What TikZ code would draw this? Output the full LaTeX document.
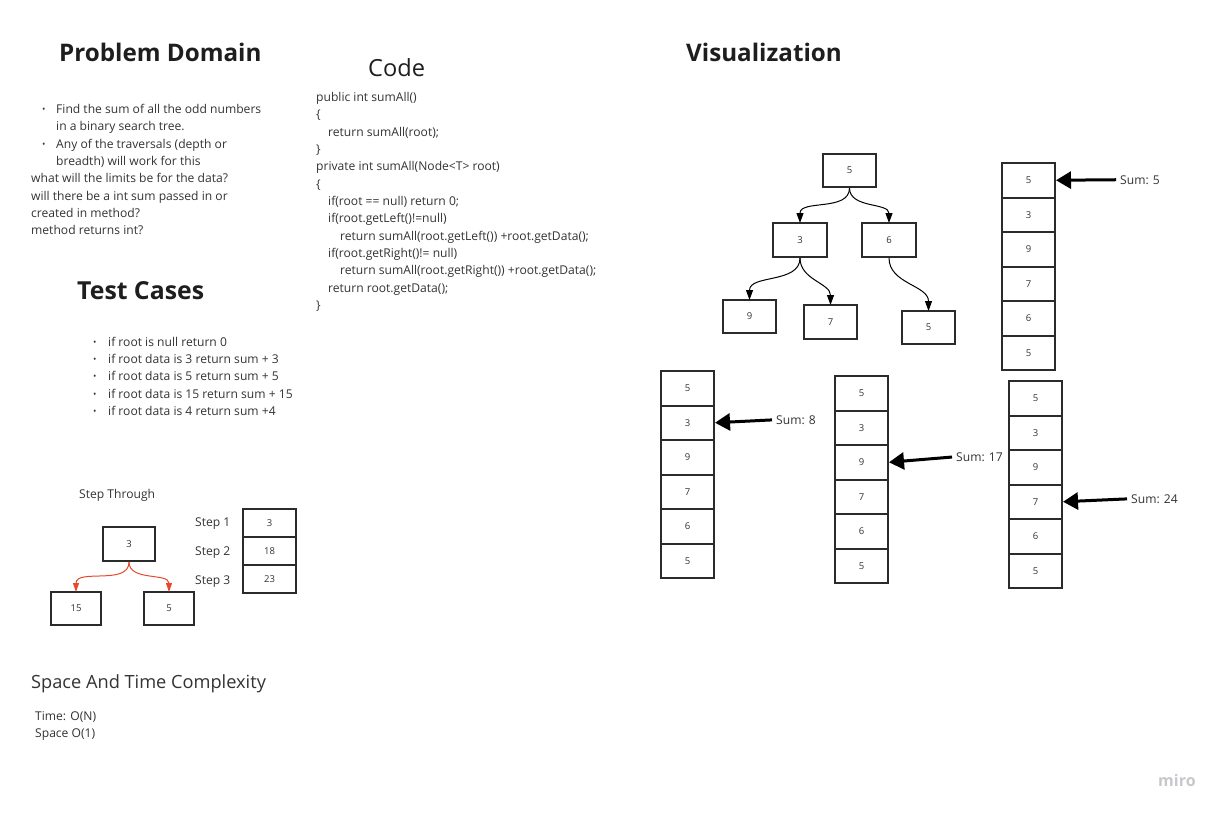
\documentclass[tikz,border=0pt]{standalone}
\usepackage{fontspec}
\setmainfont{Open Sans}
\usetikzlibrary{arrows.meta}
\definecolor{txtc}{HTML}{333333}
\definecolor{ttlc}{HTML}{1E1E1E}
\definecolor{boxc}{HTML}{2B2B2B}
\definecolor{redarr}{HTML}{E8492C}
\definecolor{miroc}{HTML}{C7C8CC}
\newcommand{\fsz}[2]{\fontsize{#1}{#2}\selectfont}
\begin{document}
\begin{tikzpicture}[x=1pt,y=-1pt,
  txt/.style={anchor=base west, inner sep=0, text=txtc, font=\fsz{12.1}{17}},
  codetxt/.style={anchor=base west, inner sep=0, text=txtc, font=\fsz{12.1}{17}},
  bul/.style={anchor=base west, inner sep=0, text=txtc, font=\fsz{9}{9}},
  ttl/.style={anchor=base west, inner sep=0, text=ttlc, font=\fsz{24.2}{28}\bfseries},
  cell/.style={draw=boxc, line width=2pt, minimum width=53pt, minimum height=34.5pt, inner sep=0, font=\fsz{9.5}{9.5}, text=txtc},
  tarr/.style={line width=1pt, -{Triangle[length=10pt,width=7pt]}},
  rarr/.style={draw=redarr, line width=1pt, -{Triangle[length=9pt,width=6pt]}},
  sarr/.style={line width=3pt, -{Triangle[length=15pt,width=17pt]}, shorten <=4pt},
]
\useasboundingbox (0,0) rectangle (1225,816);
\fill[white] (0,0) rectangle (1225,816);

% Titles
\node[ttl] (pd) at (59,62) {Problem Domain};
\node[ttl] (vis) at (686,62) {Visualization};
\node[ttl, font=\fsz{24.8}{28}\bfseries] (tc) at (77,299) {Test Cases};
\node[anchor=base west, inner sep=0, text=ttlc, font=\fsz{23.6}{26}] (codet) at (368,76) {Code};
\node[anchor=base west, inner sep=0, text=txtc, font=\fsz{18.2}{22}] (stc) at (31,688) {Space And Time Complexity};

% Problem domain
\node[bul] (pb1) at (42,112) {•};
\node[bul] (pb2) at (42,147) {•};
\node[txt] (p1) at (56,113) {Find the sum of all the odd numbers};
\node[txt] (p2) at (56,130.5) {in a binary search tree.};
\node[txt] (p3) at (56,148) {Any of the traversals (depth or};
\node[txt] (p4) at (56,165) {breadth) will work for this};
\node[txt] (p5) at (31,182.5) {what will the limits be for the data?};
\node[txt] (p6) at (31,200) {will there be a int sum passed in or};
\node[txt] (p7) at (31,217) {created in method?};
\node[txt] (p8) at (31,234) {method returns int?};

% Code
\node[codetxt] (c0) at (316,101.5) {public int sumAll()};
\node[codetxt] (c1) at (316,118.8) {\{};
\node[codetxt] (c2) at (328,136.2) {return sumAll(root);};
\node[codetxt] (c3) at (316,153.5) {\}};
\node[codetxt] (c4) at (316,170.8) {private int sumAll(Node<T> root)};
\node[codetxt] (c5) at (316,188.2) {\{};
\node[codetxt] (c6) at (328,205.5) {if(root == null) return 0;};
\node[codetxt] (c7) at (328,222.8) {if(root.getLeft()!=null)};
\node[codetxt] (c8) at (340,240.2) {return sumAll(root.getLeft()) +root.getData();};
\node[codetxt] (c9) at (328,257.5) {if(root.getRight()!= null)};
\node[codetxt] (c10) at (340,274.8) {return sumAll(root.getRight()) +root.getData();};
\node[codetxt] (c11) at (328,292.2) {return root.getData();};
\node[codetxt] (c12) at (316,309.5) {\}};

% Test cases
\foreach \i/\t in {0/{if root is null return 0},1/{if root data is 3 return sum + 3},2/{if root data is 5 return sum + 5},3/{if root data is 15 return sum + 15},4/{if root data is 4 return sum +4}}{
  \node[bul] (tb\i) at (93,345.5+17.2*\i) {•};
  \node[codetxt] (t\i) at (108,346.5+17.2*\i) {\t};
}

% Step through
\node[codetxt] (stl) at (79,498) {Step Through};
\node[codetxt] (s1l) at (195,526) {Step 1};
\node[codetxt] (s2l) at (195,555) {Step 2};
\node[codetxt] (s3l) at (195,584) {Step 3};
\node[cell, minimum height=28pt] (s1) at (269.5,523) {3};
\node[cell, minimum height=28pt] (s2) at (269.5,551) {18};
\node[cell, minimum height=28pt] (s3) at (269.5,579) {23};
\node[cell, minimum width=52pt, minimum height=34pt] (n3) at (129,544) {3};
\node[cell, minimum width=50pt, minimum height=33pt] (n15) at (76,608.5) {15};
\node[cell, minimum width=50pt, minimum height=33pt] (n5) at (169,608.5) {5};
\draw[rarr] (n3.south) to[out=-90,in=90] ([yshift=-1pt]n15.north);
\draw[rarr] (n3.south) to[out=-90,in=90] ([yshift=-1pt]n5.north);

% Time / space
\node[codetxt] (time) at (35,720.5) {Time: O(N)};
\node[codetxt] (space) at (35,737.5) {Space O(1)};

% Visualization tree
\node[cell, minimum height=33pt] (r) at (849.5,170.5) {5};
\node[cell, minimum width=54pt, minimum height=34pt] (a3) at (800,240) {3};
\node[cell, minimum width=54pt, minimum height=34pt] (a6) at (889,240) {6};
\node[cell, minimum height=33pt] (a9) at (749.5,316.5) {9};
\node[cell, minimum height=34pt] (a7) at (830.5,322) {7};
\node[cell, minimum height=33pt] (a5) at (928.5,327.5) {5};
\draw[tarr] (r.south) to[out=-90,in=90] ([yshift=-1pt]a3.north);
\draw[tarr] (r.south) to[out=-90,in=90] ([yshift=-1pt]a6.north);
\draw[tarr] (a3.south) to[out=-90,in=90] ([yshift=-1pt]a9.north);
\draw[tarr] (a3.south) to[out=-90,in=90] ([yshift=-1pt]a7.north);
\draw[tarr] (a6.south) to[out=-90,in=90] ([yshift=-1pt]a5.north);

% Stacks
\foreach \s/\x/\y in {A/1028.5/163,B/687.5/371,C/861.5/376,D/1035.5/381}{
  \foreach \v [count=\i from 0] in {5,3,9,7,6,5}{
    \node[cell] (\s\i) at (\x,\y+17.25+34.5*\i) {\v};
  }
}
\node[codetxt] (LA) at (1120,184) {Sum: 5};
\node[codetxt] (LB) at (776,424) {Sum: 8};
\node[codetxt] (LC) at (956,461) {Sum: 17};
\node[codetxt] (LD) at (1131,503) {Sum: 24};
\draw[sarr] (LA.west) -- (A0.east);
\draw[sarr] (LB.west) -- (B1.east);
\draw[sarr] (LC.west) -- (C2.east);
\draw[sarr] (LD.west) -- (D3.east);

% logo
\node[anchor=base west, inner sep=0, text=miroc, font=\fsz{16}{16}\bfseries] (logo) at (1158,786) {miro};
\end{tikzpicture}
\end{document}
